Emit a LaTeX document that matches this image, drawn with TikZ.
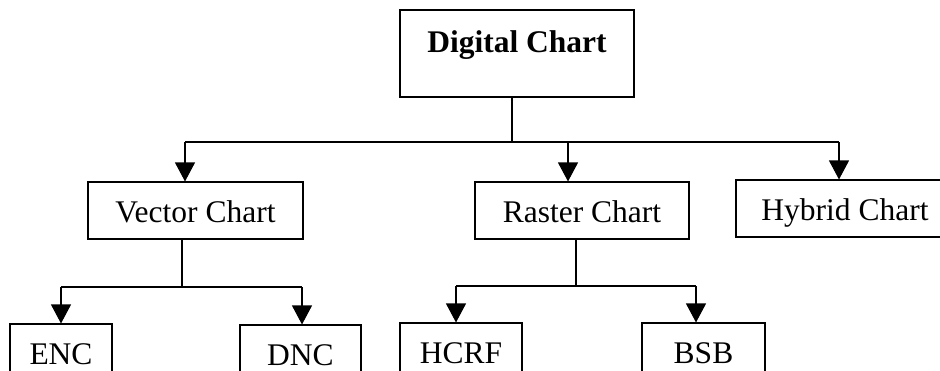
\documentclass[tikz,border=0pt]{standalone}
\usepackage{fontspec}
\setmainfont{Liberation Serif}
\usetikzlibrary{arrows.meta}
\tikzset{
  box/.style={draw, line width=1.1pt, inner sep=0pt, text height=24pt, text depth=1pt,
    font=\fontsize{31.5}{36}\selectfont},
  conn/.style={line width=1.1pt},
  arr/.style={conn, -{Triangle[width=20pt,length=19pt]}}
}
\begin{document}
\begin{tikzpicture}[x=1pt,y=-1pt]
\useasboundingbox (0,0) rectangle (940,370);
\clip (0,0) rectangle (940,370);
% nodes
\node[box, minimum width=234pt, minimum height=87pt] (digital) at (517,53.5)
  {\raisebox{13pt}{\bfseries Digital Chart}};
\node[box, minimum width=215pt, minimum height=57pt] (vector) at (195.5,210.5) {Vector Chart};
\node[box, minimum width=214pt, minimum height=57pt] (raster) at (582,210.5) {Raster Chart};
\node[box, minimum width=218pt, minimum height=57pt] (hybrid) at (845,208.5) {Hybrid Chart};
\node[box, minimum width=102pt, minimum height=57pt] (enc) at (61,352.5) {ENC};
\node[box, minimum width=121pt, minimum height=57pt] (dnc) at (300.5,353.5) {DNC};
\node[box, minimum width=122pt, minimum height=57pt] (hcrf) at (461,351.5) {HCRF};
\node[box, minimum width=123pt, minimum height=57pt] (bsb) at (703.5,351.5) {BSB};
% junction coordinates
\coordinate (j0) at (512,142);
\coordinate (b1) at (185,142);
\coordinate (b2) at (568,142);
\coordinate (b3) at (839,142);
\coordinate (v0) at (182,287);
\coordinate (v1) at (61,287);
\coordinate (v2) at (302,287);
\coordinate (r0) at (576,286);
\coordinate (r1) at (456,286);
\coordinate (r2) at (696,286);
% top level
\draw[conn] (j0 |- digital.south) -- (j0);
\draw[conn] (b1) -- (b3);
\draw[arr] (b1) -- (b1 |- vector.north);
\draw[arr] (b2) -- (b2 |- raster.north);
\draw[arr] (b3) -- (b3 |- hybrid.north);
% vector branch
\draw[conn] (v0 |- vector.south) -- (v0);
\draw[conn] (v1) -- (v2);
\draw[arr] (v1) -- (v1 |- enc.north);
\draw[arr] (v2) -- (v2 |- dnc.north);
% raster branch
\draw[conn] (r0 |- raster.south) -- (r0);
\draw[conn] (r1) -- (r2);
\draw[arr] (r1) -- (r1 |- hcrf.north);
\draw[arr] (r2) -- (r2 |- bsb.north);
\end{tikzpicture}
\end{document}
